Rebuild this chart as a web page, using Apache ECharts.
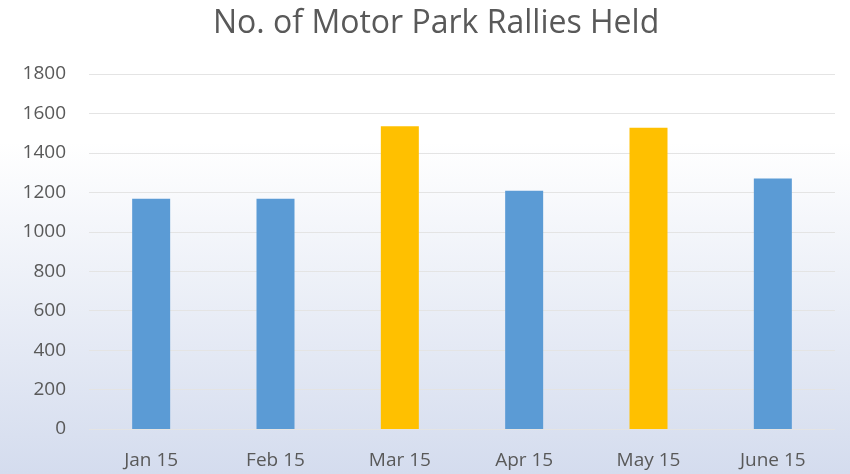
<!DOCTYPE html>
<html>
<head>
<meta charset="utf-8">
<script src="https://cdn.jsdelivr.net/npm/echarts@6/dist/echarts.min.js"></script>
<style>
html,body{margin:0;padding:0;}
#chart{width:850px;height:474px;}
</style>
</head>
<body>
<div id="chart"></div>
<script>
var categories = ["Jan 15", "Feb 15", "Mar 15", "Apr 15", "May 15", "June 15"];
var rallies = [1168, 1168, 1535, 1208, 1527, 1270];
var highlighted = ["Mar 15", "May 15"];
var yTicks = [0, 200, 400, 600, 800, 1000, 1200, 1400, 1600, 1800];

var chart = echarts.init(document.getElementById('chart'));
var font = "'Open Sans', 'Liberation Sans', sans-serif";
chart.setOption({
  backgroundColor: {
    type: 'linear', x: 0, y: 0, x2: 0, y2: 1,
    colorStops: [
      {offset: 0, color: '#ffffff'},
      {offset: 0.3, color: '#ffffff'},
      {offset: 1, color: '#d4dcee'}
    ]
  },
  animation: false,
  title: {
    text: 'No. of Motor Park Rallies Held',
    left: 208,
    top: 3,
    textStyle: {color: '#595959', fontSize: 32, fontWeight: 'normal', fontFamily: font}
  },
  grid: {left: 89, right: 15, top: 74, bottom: 45, containLabel: false},
  xAxis: {
    type: 'category',
    data: categories,
    axisLine: {show: false},
    axisTick: {show: false},
    axisLabel: {color: '#595959', fontSize: 19, fontFamily: font, margin: 22}
  },
  yAxis: {
    type: 'value',
    min: yTicks[0],
    max: yTicks[yTicks.length - 1],
    interval: 200,
    axisLine: {show: false},
    axisTick: {show: false},
    axisLabel: {color: '#595959', fontSize: 19, fontFamily: font, margin: 23,
      formatter: function (v) { return String(v); }},
    splitLine: {lineStyle: {color: '#e4e4e4', width: 1}}
  },
  series: [{
    type: 'bar',
    data: rallies,
    barWidth: 38,
    itemStyle: {
      color: function (p) {
        return highlighted.indexOf(categories[p.dataIndex]) >= 0 ? '#ffc000' : '#5b9bd5';
      }
    }
  }]
});
</script>
</body>
</html>
